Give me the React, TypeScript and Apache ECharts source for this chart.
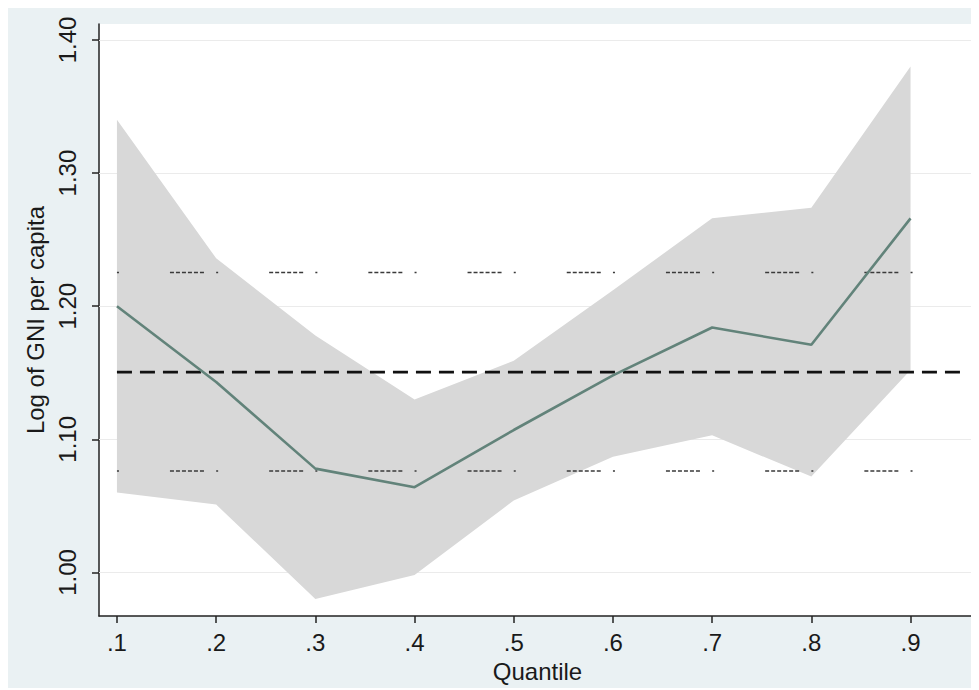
import React, { useEffect, useRef } from "react";
import * as echarts from "echarts";

// ---- data ----
const quantiles = [0.1, 0.2, 0.3, 0.4, 0.5, 0.6, 0.7, 0.8, 0.9];
const estimate = [1.2, 1.143, 1.078, 1.064, 1.107, 1.148, 1.184, 1.171, 1.266];
const upperCI = [1.34, 1.236, 1.178, 1.13, 1.159, 1.212, 1.266, 1.274, 1.38];
const lowerCI = [1.06, 1.051, 0.98, 0.998, 1.054, 1.087, 1.103, 1.072, 1.152];

const olsEstimate = 1.1505;
const olsUpper = 1.2253;
const olsLower = 1.0762;
const olsSpan = [0.1, 0.95];

const xTicks = [0.1, 0.2, 0.3, 0.4, 0.5, 0.6, 0.7, 0.8, 0.9];
const xTickLabels = [".1", ".2", ".3", ".4", ".5", ".6", ".7", ".8", ".9"];
const yTicks = [1.0, 1.1, 1.2, 1.3, 1.4];
const yTickLabels = ["1.00", "1.10", "1.20", "1.30", "1.40"];

const xTitle = "Quantile";
const yTitle = "Log of GNI per capita";

const FONT = "'Liberation Sans', Arial, Helvetica, sans-serif";

export default function App() {
  const ref = useRef<HTMLDivElement>(null);

  useEffect(() => {
    document.documentElement.style.overflow = "hidden";
    document.body.style.overflow = "hidden";
    const chart = echarts.init(ref.current!, undefined, { renderer: "svg" });

    const labelFor = (vals: number[], labels: string[]) => (v: number) => {
      const i = vals.findIndex((t) => Math.abs(t - v) < 1e-6);
      return i >= 0 ? labels[i] : "";
    };

    const olsLine = (y: number) => olsSpan.map((x) => [x, y]);
    const ciDots = [2, 51, 4, 2, 4, 2, 4, 2, 4, 2, 4, 2, 4, 12.2];

    const bandData = quantiles.map((q, i) => [q, lowerCI[i], upperCI[i]]);

    chart.setOption({
      animation: false,
      backgroundColor: "#eaf1f3",
      grid: {
        left: 91,
        top: 16,
        right: 3,
        bottom: 71,
        show: true,
        backgroundColor: "#ffffff",
        borderWidth: 0,
      },
      xAxis: {
        type: "value",
        min: 0.0819,
        max: 0.966,
        name: xTitle,
        nameLocation: "middle",
        nameGap: 42,
        nameTextStyle: { fontFamily: FONT, fontSize: 24, color: "#1a1a1a" },
        axisLine: { show: true, onZero: false, lineStyle: { color: "#222", width: 1.5 } },
        axisTick: {
          show: true,
          length: 7,
          customValues: xTicks,
          lineStyle: { color: "#222", width: 1.5 },
        },
        axisLabel: {
          show: true,
          customValues: xTicks,
          margin: 14,
          fontFamily: FONT,
          fontSize: 24,
          color: "#1a1a1a",
          formatter: labelFor(xTicks, xTickLabels),
        },
        splitLine: { show: false },
      },
      yAxis: {
        type: "value",
        min: 0.9672,
        max: 1.412,
        name: yTitle,
        nameLocation: "middle",
        nameRotate: 90,
        nameGap: 48,
        nameTextStyle: { fontFamily: FONT, fontSize: 24, color: "#1a1a1a" },
        axisLine: { show: true, lineStyle: { color: "#222", width: 1.5 } },
        axisTick: {
          show: true,
          length: 7,
          customValues: yTicks,
          lineStyle: { color: "#222", width: 1.5 },
        },
        axisLabel: {
          show: true,
          customValues: yTicks,
          rotate: 90,
          margin: 20,
          fontFamily: FONT,
          fontSize: 24,
          color: "#1a1a1a",
          formatter: labelFor(yTicks, yTickLabels),
        },
        splitLine: { show: false },
      },
      series: [
        {
          name: "band",
          type: "custom",
          z: 2,
          silent: true,
          data: bandData,
          encode: { x: 0, y: [1, 2] },
          renderItem: (params: any, api: any) => {
            if (params.dataIndex !== 0) return null;
            const up = bandData.map((d) => api.coord([d[0], d[2]]));
            const lo = bandData.map((d) => api.coord([d[0], d[1]])).reverse();
            return {
              type: "polygon",
              shape: { points: up.concat(lo) },
              style: { fill: "#d8d8d8", stroke: "none" },
            };
          },
          markLine: {
            silent: true,
            symbol: "none",
            z: 1,
            label: { show: false },
            lineStyle: { color: "#ebebeb", type: "solid", width: 1.2 },
            data: yTicks.map((v) => ({ yAxis: v })),
          },
        },
        {
          name: "ols",
          type: "line",
          symbol: "none",
          z: 3,
          lineStyle: { color: "#111", width: 2.6, type: [15, 8] },
          data: olsLine(olsEstimate),
        },
        {
          name: "olsUpper",
          type: "line",
          symbol: "none",
          z: 3,
          lineStyle: { color: "#3a3a3a", width: 1.6, type: ciDots },
          data: olsLine(olsUpper),
        },
        {
          name: "olsLower",
          type: "line",
          symbol: "none",
          z: 3,
          lineStyle: { color: "#3a3a3a", width: 1.6, type: ciDots },
          data: olsLine(olsLower),
        },
        {
          name: "estimate",
          type: "line",
          symbol: "none",
          z: 4,
          lineStyle: { color: "#62837a", width: 2.6 },
          data: quantiles.map((q, i) => [q, estimate[i]]),
        },
      ],
    });

    return () => chart.dispose();
  }, []);

  return <div ref={ref} style={{ width: 971, height: 680 }} />;
}
